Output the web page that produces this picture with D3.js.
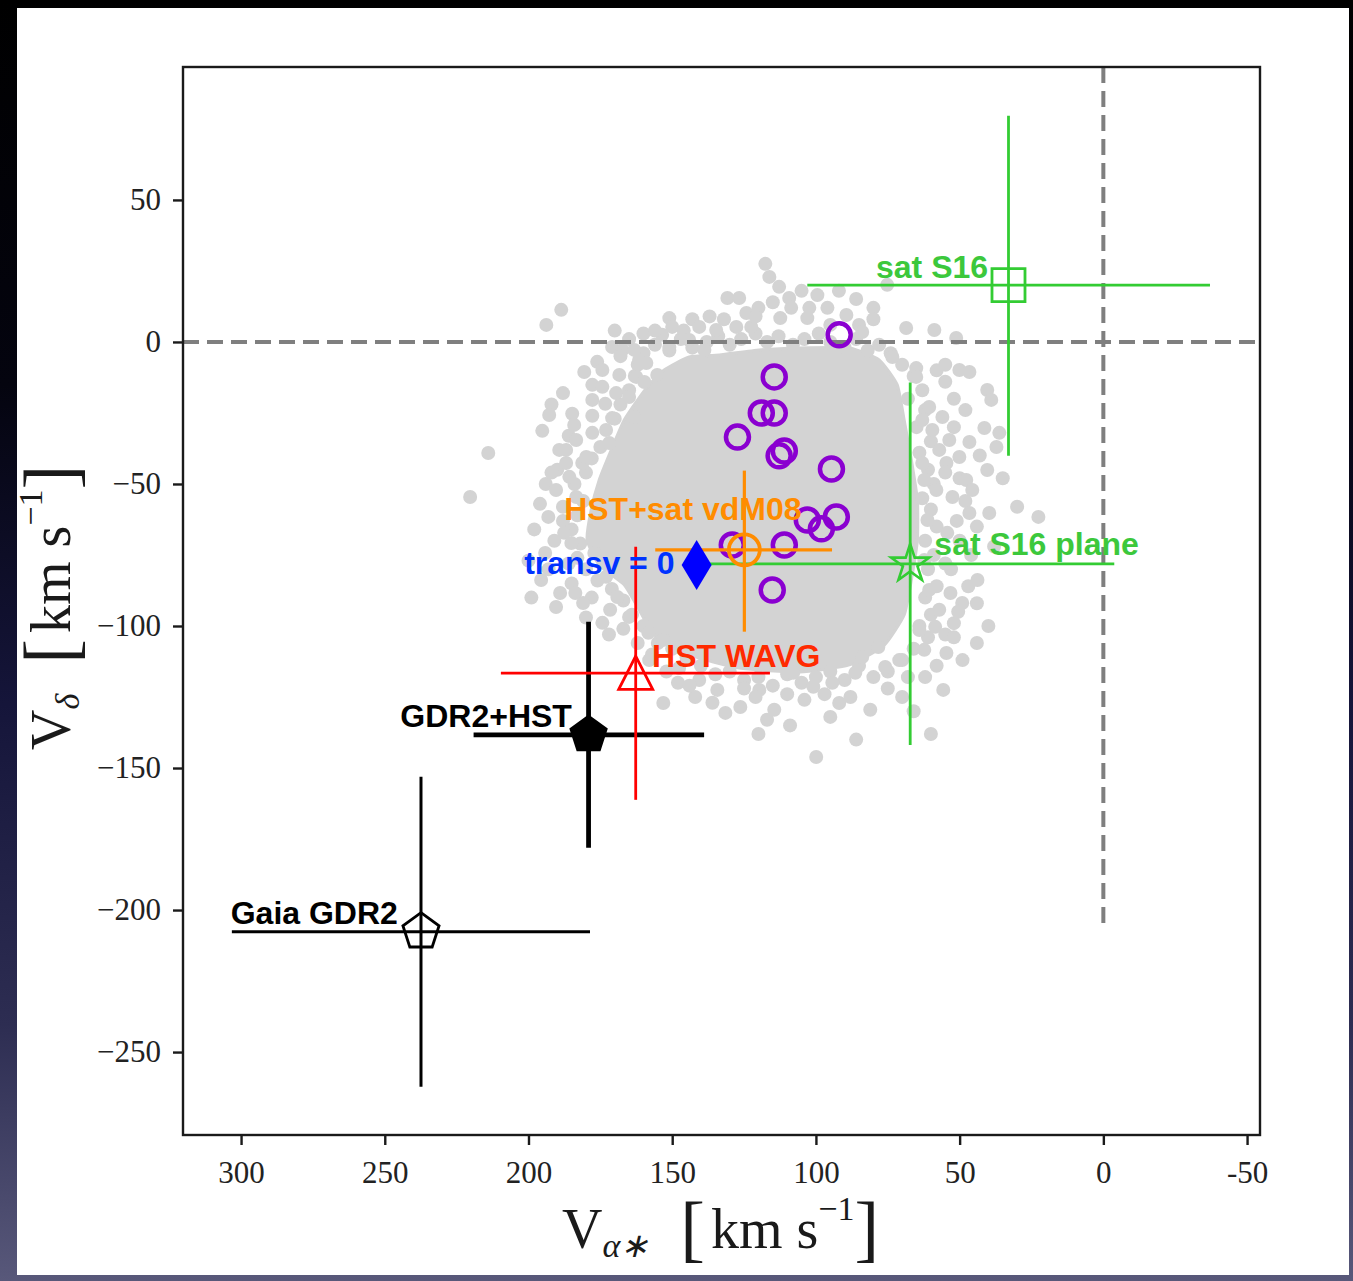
<!DOCTYPE html>
<html><head><meta charset="utf-8">
<script src="https://cdn.jsdelivr.net/npm/d3@7"></script>
<style>html,body{margin:0;padding:0;background:#000;overflow:hidden}svg{display:block}</style>
</head><body>
<script>
// ---------------- DATA ----------------
const xTicks = [300, 250, 200, 150, 100, 50, 0, -50];
const yTicks = [50, 0, -50, -100, -150, -200, -250];
const xTickLabels = ["300", "250", "200", "150", "100", "50", "0", "-50"];
const yTickLabels = ["50", "0", "\u221250", "\u2212100", "\u2212150", "\u2212200", "\u2212250"];

// dense core of the simulated (grey) cloud, boundary in [V_alpha*, V_delta]
const cloudCore = [
[161.5,-19.7],[166.7,-27.5],[171.2,-38.0],[175.4,-48.6],[178.2,-59.1],[179.6,-69.7],[175.4,-78.5],[166.7,-85.5],
[161.5,-94.3],[156.3,-103.1],[144.1,-110.2],[126.7,-114.8],[105.8,-116.2],[88.4,-113.7],[76.2,-106.7],[69.3,-96.1],
[66.8,-83.8],[64.7,-69.7],[64.7,-55.6],[66.8,-41.5],[69.3,-27.5],[71.7,-15.1],[78.0,-6.3],[88.4,-2.1],
[105.8,-2.1],[119.7,-2.8],[133.6,-4.6],[144.1,-5.3],[152.8,-9.9],[158.0,-15.1]
];
// grey points along the edge of the dense core
const cloudEdge = [
[160,-4],[156,-1],[151,-3],[147,1],[143,-2],[138,0],[134,2],[130,-1],[126,1],[121,3],[117,0],[113,2],[108,-1],[104,1],
[99,3],[95,0],[90,-2],[86,1],[82,-3],[78,-1],[74,-4],
[70,-8],[66,-12],[63,-17],[68,-20],[62,-24],[65,-30],[60,-35],[64,-39],[61,-45],[59,-50],[63,-55],[60,-59],[58,-65],
[62,-70],[59,-75],[61,-80],[58,-86],[62,-90],[60,-96],[64,-100],[61,-104],[66,-108],[70,-112],
[75,-116],[80,-118],[85,-114],[90,-119],[95,-116],[100,-118],[105,-120],[110,-117],[115,-121],[120,-118],[125,-119],
[130,-116],[135,-117],[140,-114],[145,-111],[150,-108],[155,-106],
[160,-100],[164,-96],[167,-91],[171,-87],[176,-84],[180,-80],[183,-76],[182,-71],[185,-66],[183,-61],[181,-56],
[184,-50],[180,-46],[178,-41],[175,-37],[173,-31],[170,-27],[168,-22],[165,-17],[163,-12],[162,-8]
];
// second, looser ring of grey points
const cloudRing = [
[188,-18],[192,-22],[186,-33],[190,-45],[194,-50],[188,-63],[191,-70],[186,-78],[193,-80],[185,-85],[178,-90],[180,-97],
[172,-103],[167,-101],[162,-106],[157,-110],[196,-57],[198,-66],[199,-90],[200,-77],
[170,4],[165,1],[160,3],[146,4],[143,8],[137,9],[132,8],[120,12],[115,14],[105,18],[96,12],[92,18],[85,6],[80,12],
[58,-10],[55,-8],[52,-30],[50,-48],[48,-56],[44,-65],[50,-70],[46,-75],[53,-80],[47,-86],[44,-92],[52,-99],[55,-103],
[49,-112],[58,-114],[62,-118],[43,-40],[35,-48],[30,-58],[38,-72],[40,-100],[44,-106],
[75,-122],[70,-125],[88,-125],[104,-126],[110,-124],[117,-133],[125,-122],[136,-127],[142,-125],[148,-120],[152,-116],
[158,-112],[109,-135],[95,-132],[86,-140],[120,-138],[66,-130],[60,-138]
];
// individual grey points around the core
const cloudPoints = [
[188.6,11.3],[193.8,6.0],[214.0,-39.1],[220.3,-54.6],[192.8,-25.7],[195.2,-31.3],[184.8,-25.3],[184.1,-29.2],[177.8,-26.0],[170.9,-26.8],
[180.6,-10.6],[176.1,-7.0],[174.3,-9.9],[177.8,-15.1],[174.3,-15.8],[177.8,-20.4],[173.3,-21.8],[169.5,-18.0],[170.9,-1.8],[167.4,-2.8],
[163.2,-2.8],[159.0,-7.4],[155.2,-11.6],[162.5,-12.3],[159.7,-14.1],[153.5,2.5],[151.0,8.4],[150.0,5.3],[151.0,-1.8],[140.6,5.3],
[134.7,4.2],[130.8,15.5],[126.7,15.5],[124.2,10.2],[127.7,5.3],[189.3,-38.0],[186.9,-38.0],[183.4,-34.5],[177.8,-32.0],[181.3,-42.6],
[186.9,-42.6],[185.8,-47.5],[190.4,-52.1],[183.4,-54.6],[179.9,-40.5],[165.0,-19.4],[163.2,-26.4],[171.9,-35.6],
[117.6,27.5],[116.2,22.9],[112.8,19.4],[109.3,15.5],[108.6,12.0],[99.5,16.5],[102.3,12.0],[103.0,8.4],[112.4,8.4],[122.5,5.3],
[86.0,15.1],[89.4,9.5],[83.9,3.5],[75.2,20.1],[68.6,4.9],[51.2,1.4],[65.1,-9.2],[65.1,-12.3],[73.4,-5.3],[50.1,-9.9],
[46.6,-10.6],[40.4,-16.9],[39.0,-20.4],[60.6,-22.9],[56.0,-26.4],[63.0,-27.5],[41.4,-30.3],[36.2,-32.0],[59.5,-31.0],[53.6,-34.5],
[46.6,-35.2],[37.2,-37.0],[57.1,-38.0],[50.1,-40.5],[63.0,-42.6],[54.6,-42.6],[40.4,-45.1],[47.7,-48.6],[45.6,-52.1],[58.1,-52.1],
[52.5,-54.6],
[22.6,-61.6],[39.7,-60.2],[46.6,-60.2],[54.3,-67.2],[43.8,-83.8],[53.2,-88.4],[49.1,-91.9],[57.1,-94.3],[50.5,-95.0],[58.5,-100.3],
[62.3,-108.4],[54.6,-109.5],[55.7,-122.5],[81.1,-129.5],[91.9,-127.1],[99.9,-146.1],[114.5,-129.5],[126.3,-128.5],[134.3,-122.5],[131.5,-130.6],
[153.1,-127.1],[107.9,-116.5],[100.9,-121.4],[94.3,-120.0],[86.3,-116.5],[75.9,-114.4],[83.9,-110.9],[78.3,-107.4],
[193.1,-61.6],[187.6,-67.2],[195.6,-83.8],[189.0,-88.4],[190.4,-93.3],[183.7,-88.4],[181.0,-91.9],[171.6,-94.3],[174.3,-98.9],[165.0,-96.8],
[158.3,-102.4],[153.1,-104.9],[147.6,-107.4],[194.2,-74.3],[185.1,-70.8],[177.1,-74.3],[173.0,-82.7],[169.1,-89.8],
[58.8,4.2],[144.1,0.7],[138.8,-2.8],[161.5,-6.3],[168.4,-11.6],
[62.3,-48.6],[61.2,-62.7],[62.3,-76.8],[60.6,-87.3],[64.0,-101.4],[71.0,-112.0],
[119.7,-122.5],[140.6,-119.0],[147.6,-114.8],
[55.0,-14.0],[52.0,-20.0],[48.0,-24.0],[55.0,-46.0],[51.0,-63.0],[55.0,-78.0],[52.0,-104.0],[68.0,-118.0],[97.0,-124.0],
[121.0,-125.0],[144.0,-121.0],[188.0,-58.0],[192.0,-46.0],[168.0,-5.0],[156.0,4.0],[121.0,9.0],[95.0,6.0],[80.0,8.0]
];

// satellites (purple open circles)
const satVx = [91.9, 114.5, 119.0, 114.5, 127.3, 112.8, 111.0, 94.6, 92.9, 103.0, 98.1, 129.1, 111.0, 115.2];
const satVy = [2.5, -12.3, -25.0, -25.0, -33.5, -40.1, -38.4, -44.7, -61.6, -62.7, -65.8, -71.5, -71.5, -87.3];

// measurements with (asymmetric) error bars
const measNames = ["Gaia GDR2", "GDR2+HST", "HST WAVG", "sat S16 plane", "HST+sat vdM08", "sat S16"];
const measVx    = [237.4, 179.1, 162.7, 67.2, 124.9, 33.0];
const measVy    = [-207.6, -138.3, -116.6, -78.1, -73.2, 20.0];
const measVxMax = [303.2, 219.1, 209.6, 140.6, 155.9, 103.0];
const measVxMin = [178.6, 138.9, 116.0, -3.8, 94.4, -37.1];
const measVyMax = [-153.1, -98.5, -72.1, -14.3, -45.3, 79.6];
const measVyMin = [-262.2, -178.1, -161.2, -141.9, -102.0, -40.1];

// zero transverse velocity point
const transvVx = [141.5];
const transvVy = [-78.5];

// annotation anchors (data units)
const labelText = ["Gaia GDR2", "GDR2+HST", "HST WAVG", "HST+sat vdM08", "transv = 0", "sat S16", "sat S16 plane"];
const labelVx   = [303.6, 244.6, 157.0, 187.6, 201.5, 79.1, 58.8];
const labelVy   = [-204.9, -135.6, -114.3, -62.7, -81.7, 22.4, -75.0];

// ---------------- STYLE ----------------
const W = 1353, H = 1281;
const plot = {left: 183, right: 1260, top: 67, bottom: 1135};
const measStyle = [
  {color: "#000000", lw: 3.0, marker: "pentagon", fill: "none", size: 19, mlw: 2.8},
  {color: "#000000", lw: 4.8, marker: "pentagon", fill: "#000000", size: 19, mlw: 2},
  {color: "#ff0000", lw: 2.8, marker: "triangle", fill: "none", size: 17, mlw: 2.8},
  {color: "#33cc33", lw: 2.8, marker: "star", fill: "none", size: 20, mlw: 2.6},
  {color: "#ff8c00", lw: 3.2, marker: "circle", fill: "none", size: 15.5, mlw: 3.8},
  {color: "#33cc33", lw: 2.8, marker: "square", fill: "none", size: 16.5, mlw: 2.8}
];
const labelColor = ["#000000", "#000000", "#ff2a00", "#ff8c00", "#0033ff", "#3cc83c", "#3cc83c"];

const svg = d3.select("body").append("svg").attr("width", W).attr("height", H);
const defs = svg.append("defs");
const grad = defs.append("linearGradient").attr("id", "bg").attr("x1", 0).attr("y1", 0).attr("x2", 0).attr("y2", 1);
[[0, "#000000"], [0.3, "#04040f"], [0.55, "#15153a"], [0.8, "#2d2d52"], [1, "#58587a"]].forEach(s =>
  grad.append("stop").attr("offset", s[0]).attr("stop-color", s[1]));
svg.append("rect").attr("width", W).attr("height", H).attr("fill", "url(#bg)");
svg.append("rect").attr("x", 17).attr("y", 8).attr("width", 1332).attr("height", 1267).attr("fill", "#ffffff");

const x = d3.scaleLinear().domain([320.2, -54.5]).range([plot.left, plot.right]);
const y = d3.scaleLinear().domain([96.8, -279.2]).range([plot.top, plot.bottom]);

defs.append("clipPath").attr("id", "clip").append("rect")
  .attr("x", plot.left).attr("y", plot.top).attr("width", plot.right - plot.left).attr("height", plot.bottom - plot.top);
const g = svg.append("g").attr("clip-path", "url(#clip)");

// grey cloud
const grey = "#d3d3d3";
const R = 7;
g.append("path").datum(cloudCore)
  .attr("d", d3.line().x(d => x(d[0])).y(d => y(d[1])).curve(d3.curveCardinalClosed.tension(0.5)))
  .attr("fill", grey).attr("stroke", grey).attr("stroke-width", 3);
[["edge", cloudEdge], ["ring", cloudRing], ["cloud", cloudPoints]].forEach(([cls, arr]) => {
  g.selectAll("circle." + cls).data(arr).join("circle").attr("class", cls)
    .attr("cx", d => x(d[0])).attr("cy", d => y(d[1])).attr("r", R).attr("fill", grey);
});

// dashed zero lines
g.append("line").attr("x1", x(320.2)).attr("x2", x(-54.5)).attr("y1", y(0)).attr("y2", y(0))
  .attr("stroke", "#7f7f7f").attr("stroke-width", 4).attr("stroke-dasharray", "16,8");
g.append("line").attr("x1", x(0)).attr("x2", x(0)).attr("y1", y(96.8)).attr("y2", y(-205.2))
  .attr("stroke", "#7f7f7f").attr("stroke-width", 4).attr("stroke-dasharray", "16,8");

// satellites
g.selectAll("circle.sat").data(satVx).join("circle").attr("class", "sat")
  .attr("cx", d => x(d)).attr("cy", (d, i) => y(satVy[i])).attr("r", 11.5)
  .attr("fill", "none").attr("stroke", "#8a00d0").attr("stroke-width", 4.5);

// marker shapes
function polyPath(n, Rr, inner) {
  const pts = [];
  const m = inner ? 2 * n : n;
  for (let k = 0; k < m; k++) {
    const a = (-90 + k * 360 / m) * Math.PI / 180;
    const r = inner && (k % 2 === 1) ? Rr * inner : Rr;
    pts.push([r * Math.cos(a), r * Math.sin(a)]);
  }
  return "M" + pts.map(p => p[0].toFixed(2) + "," + p[1].toFixed(2)).join("L") + "Z";
}
function markerPath(kind, s) {
  if (kind === "pentagon") return polyPath(5, s);
  if (kind === "star") return polyPath(5, s, 0.382);
  if (kind === "triangle") return `M0,${-s}L${s},${s * 0.95}L${-s},${s * 0.95}Z`;
  if (kind === "square") return `M${-s},${-s}H${s}V${s}H${-s}Z`;
  return d3.arc()({innerRadius: 0, outerRadius: s, startAngle: 0, endAngle: 2 * Math.PI});
}

measNames.forEach((name, i) => {
  const st = measStyle[i];
  const mg = g.append("g");
  mg.append("line").attr("x1", x(measVxMax[i])).attr("x2", x(measVxMin[i]))
    .attr("y1", y(measVy[i])).attr("y2", y(measVy[i])).attr("stroke", st.color).attr("stroke-width", st.lw);
  mg.append("line").attr("x1", x(measVx[i])).attr("x2", x(measVx[i]))
    .attr("y1", y(measVyMax[i])).attr("y2", y(measVyMin[i])).attr("stroke", st.color).attr("stroke-width", st.lw);
  mg.append("path").attr("d", markerPath(st.marker, st.size))
    .attr("transform", `translate(${x(measVx[i])},${y(measVy[i])})`)
    .attr("fill", st.fill).attr("stroke", st.color).attr("stroke-width", st.mlw).attr("stroke-linejoin", "miter");
});

// transverse = 0 diamond
g.selectAll("path.diam").data(transvVx).join("path").attr("class", "diam")
  .attr("d", "M0,-25L15,0L0,25L-15,0Z")
  .attr("transform", (d, i) => `translate(${x(d)},${y(transvVy[i])})`)
  .attr("fill", "#0000ff");

// annotations
svg.selectAll("text.lab").data(labelText).join("text").attr("class", "lab")
  .attr("x", (d, i) => x(labelVx[i])).attr("y", (d, i) => y(labelVy[i]))
  .attr("fill", (d, i) => labelColor[i])
  .attr("font-family", "'Liberation Sans', Arial, Helvetica, sans-serif")
  .attr("font-weight", "bold").attr("font-size", 32).text(d => d);

// frame
svg.append("rect").attr("x", plot.left).attr("y", plot.top)
  .attr("width", plot.right - plot.left).attr("height", plot.bottom - plot.top)
  .attr("fill", "none").attr("stroke", "#1a1a1a").attr("stroke-width", 2.4);

// axes
const tickFont = "'Liberation Serif', 'Times New Roman', serif";
const xAxis = d3.axisBottom(x).tickValues(xTicks).tickSize(10).tickPadding(16)
  .tickFormat((d, i) => xTickLabels[i]);
const yAxis = d3.axisLeft(y).tickValues(yTicks).tickSize(10).tickPadding(12)
  .tickFormat((d, i) => yTickLabels[i]);
const gx = svg.append("g").attr("transform", `translate(0,${plot.bottom})`).call(xAxis);
const gy = svg.append("g").attr("transform", `translate(${plot.left},0)`).call(yAxis);
[gx, gy].forEach(a => {
  a.select(".domain").remove();
  a.selectAll(".tick line").attr("stroke", "#1a1a1a").attr("stroke-width", 2.4);
  a.selectAll(".tick text").attr("fill", "#222").attr("font-family", tickFont).attr("font-size", 31);
});

// axis titles
const xt = svg.append("text").attr("x", 562).attr("y", 1248)
  .attr("font-family", tickFont).attr("font-size", 56).attr("fill", "#1a1a1a");
xt.append("tspan").text("V");
xt.append("tspan").attr("font-size", 34).attr("font-style", "italic").attr("dy", 9).text("\u03b1\u2217");
xt.append("tspan").attr("font-size", 74).attr("dx", 32).attr("dy", -4).text("[");
xt.append("tspan").attr("dx", 6).attr("dy", -5).text("km s");
xt.append("tspan").attr("font-size", 34).attr("dy", -28).text("\u22121");
xt.append("tspan").attr("font-size", 74).attr("dy", 33).attr("dx", 0).text("]");

const yt = svg.append("text").attr("transform", "translate(70,750) rotate(-90)")
  .attr("font-family", tickFont).attr("font-size", 56).attr("fill", "#1a1a1a");
yt.append("tspan").text("V");
yt.append("tspan").attr("font-size", 34).attr("font-style", "italic").attr("dy", 9).text("\u03b4");
yt.append("tspan").attr("font-size", 74).attr("dx", 30).attr("dy", -4).text("[");
yt.append("tspan").attr("dx", 6).attr("dy", -5).text("km s");
yt.append("tspan").attr("font-size", 34).attr("dy", -28).text("\u22121");
yt.append("tspan").attr("font-size", 74).attr("dy", 33).attr("dx", 0).text("]");
</script>
</body></html>
